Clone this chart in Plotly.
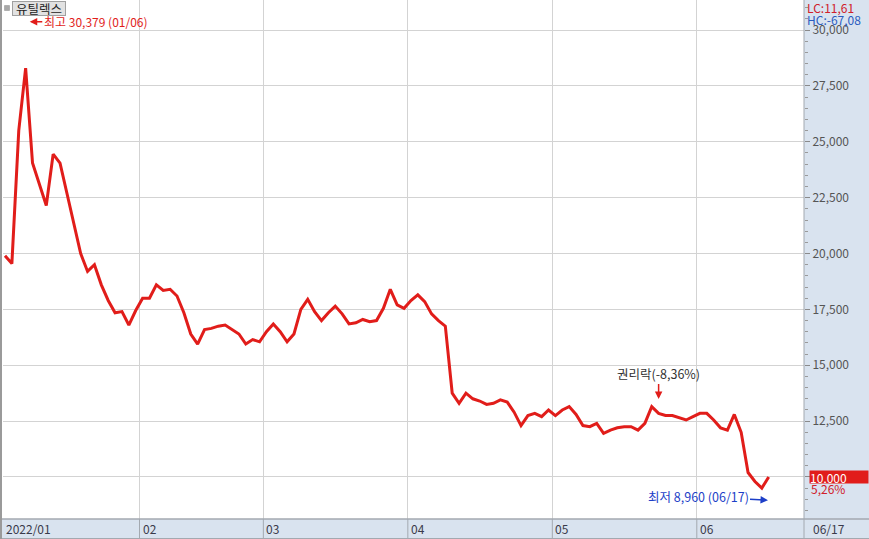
import plotly.graph_objects as go

# ---- data ----
stock_name = "유틸렉스"
months = ["01", "02", "03", "04", "05", "06"]
month_days = {
    "01": [3, 4, 5, 6, 7, 10, 11, 12, 13, 14, 17, 18, 19, 20, 21, 24, 25, 26, 27, 28],
    "02": [3, 4, 7, 8, 9, 10, 11, 14, 15, 16, 17, 18, 21, 22, 23, 24, 25, 28],
    "03": [2, 3, 4, 7, 8, 10, 11, 14, 15, 16, 17, 18, 21, 22, 23, 24, 25, 28, 29, 30, 31],
    "04": [1, 4, 5, 6, 7, 8, 11, 12, 13, 14, 15, 18, 19, 20, 21, 22, 25, 26, 27, 28, 29],
    "05": [2, 3, 4, 6, 9, 10, 11, 12, 13, 16, 17, 18, 19, 20, 23, 24, 25, 26, 27, 30, 31],
    "06": [2, 3, 7, 8, 9, 10, 13, 14, 15, 16, 17],
}
dates = [f"2022/{m}/{d:02d}" for m in months for d in month_days[m]]

close = [
    19900, 19550, 25500, 28300, 24050, 23150, 22150, 24450, 24050, 22700,
    21350, 20000, 19200, 19500, 18600, 17900, 17350, 17400, 16800, 17450,
    18000, 18000, 18600, 18350, 18400, 18100, 17350, 16400, 15950, 16600,
    16650, 16750, 16800, 16600, 16400, 15950, 16150, 16050, 16500, 16850,
    16500, 16050, 16400, 17500, 17950, 17400, 17000, 17350, 17650, 17300,
    16850, 16900, 17050, 16950, 17000, 17550, 18400, 17700, 17550, 17900,
    18150, 17850, 17300, 17000, 16750, 13750, 13300, 13750, 13500, 13400,
    13250, 13300, 13450, 13350, 12900, 12300, 12750, 12850, 12700, 13000,
    12750, 13000, 13150, 12800, 12300, 12250, 12400, 11950, 12100, 12200,
    12250, 12250, 12100, 12400, 13150, 12850, 12750, 12750, 12650, 12550,
    12700, 12850, 12850, 12550, 12200, 12100, 12800, 12000, 10200, 9800,
    9500, 10000,
]
month_labels = ["2022/01", "02", "03", "04", "05", "06"]
y_ticks = [10000, 12500, 15000, 17500, 20000, 22500, 25000, 27500, 30000]

high_value, high_date = 30379, "01/06"
low_value, low_date = 8960, "06/17"
ex_rights_date = "2022/05/24"
ex_rights_text = "권리락(-8,36%)"
lc_text = "LC:11,61"
hc_text = "HC:-67,08"
last_change = "5,26%"

# ---- derived ----
n = len(close)
xs = list(range(n))
month_starts = [dates.index(f"2022/{m}/{month_days[m][0]:02d}") for m in months]
grid_x = [s - 0.45 for s in month_starts]
high_idx = dates.index("2022/" + high_date)
low_idx = dates.index("2022/" + low_date)
ex_idx = dates.index(ex_rights_date)
last_val = close[-1]

FONT = "Noto Sans CJK KR, Noto Sans, sans-serif"
RED = "#e11d1a"
BLUE = "#1d3fc8"
PANEL = "#d9e3ef"
BORDER = "#a3a9b0"

W, H = 869, 539
ML, MR, MT, MB = 3, 65, 0, 20
PW, PH = W - ML - MR, H - MT - MB
X_RANGE = [-0.29, 116.13]

def px(X):
    return (X - ML) / PW

def py(Y):
    return (MT + PH - Y) / PH

fig = go.Figure()
fig.add_trace(go.Scatter(
    x=xs, y=close, mode="lines", text=dates,
    line=dict(color=RED, width=3), hoverinfo="text+y", showlegend=False,
))

shapes = []
# right panel and bottom panel backgrounds
shapes.append(dict(type="rect", xref="paper", yref="paper", x0=1, x1=px(W + 2),
                   y0=0, y1=py(-2), fillcolor=PANEL, line=dict(width=0), layer="below"))
shapes.append(dict(type="rect", xref="paper", yref="paper", x0=px(-2), x1=px(W + 2),
                   y0=py(H + 2), y1=0, fillcolor=PANEL, line=dict(width=0), layer="below"))
# month separators in bottom panel
for gx in grid_x[1:]:
    shapes.append(dict(type="line", xref="x", yref="paper", x0=gx, x1=gx,
                       y0=py(H), y1=0, line=dict(color=BORDER, width=1)))
# borders
shapes.append(dict(type="line", xref="paper", yref="paper", x0=px(0), x1=px(W),
                   y0=0, y1=0, line=dict(color=BORDER, width=1.5)))
shapes.append(dict(type="line", xref="paper", yref="paper", x0=px(0), x1=px(W),
                   y0=py(H - 0.5), y1=py(H - 0.5), line=dict(color=BORDER, width=1)))
shapes.append(dict(type="line", xref="paper", yref="paper", x0=1, x1=1,
                   y0=py(H), y1=py(0), line=dict(color=BORDER, width=1)))
shapes.append(dict(type="line", xref="paper", yref="paper", x0=px(1), x1=px(1),
                   y0=py(H), y1=py(0), line=dict(color="#9a9a9a", width=2)))
# legend square
shapes.append(dict(type="rect", xref="paper", yref="paper", x0=px(4.5), x1=px(9.5),
                   y0=py(10.5), y1=py(5.5), fillcolor="#a8a8a8", line=dict(color="#8c8c8c", width=0.5)))

ann = []
# legend label
ann.append(dict(xref="paper", yref="paper", x=px(12), y=py(8.5), xanchor="left", yanchor="middle",
                text=stock_name, showarrow=False, font=dict(family=FONT, size=12.5, color="#222"),
                bgcolor="#e2e2e2", bordercolor="#a0a0a0", borderwidth=1, borderpad=0,
                width=52, height=13))
# high marker
ann.append(dict(x=high_idx + 0.6, y=high_value, xref="x", yref="y", ax=66, ay=0,
                text=f"최고 {high_value:,} ({high_date})", showarrow=True,
                arrowhead=2, arrowsize=1, arrowwidth=1.5, arrowcolor=RED,
                font=dict(family=FONT, size=12, color=RED)))
# low marker
ann.append(dict(x=low_idx - 0.1, y=low_value, xref="x", yref="y", ax=-70, ay=-4,
                text=f"최저 {low_value:,} ({low_date})", showarrow=True,
                arrowhead=2, arrowsize=1, arrowwidth=1.5, arrowcolor=BLUE,
                font=dict(family=FONT, size=12.5, color=BLUE)))
# ex-rights marker
ann.append(dict(x=ex_idx, y=13490, xref="x", yref="y", ax=0, ay=-26,
                text=ex_rights_text, showarrow=True,
                arrowhead=2, arrowsize=1, arrowwidth=1.5, arrowcolor=RED,
                font=dict(family=FONT, size=12.5, color="#333")))
# month labels (paper positions computed from the x-axis scale)
for gx, lab in zip(grid_x, month_labels):
    xp = max((gx - X_RANGE[0]) / (X_RANGE[1] - X_RANGE[0]), 0)
    ann.append(dict(x=xp, y=py(528.5), xref="paper", yref="paper", xanchor="left", yanchor="middle",
                    xshift=1, text=lab, showarrow=False,
                    font=dict(family=FONT, size=12, color="#3a3a4a")))
ann.append(dict(x=px(811), y=py(528.5), xref="paper", yref="paper", xanchor="left", yanchor="middle",
                text=low_date, showarrow=False, font=dict(family=FONT, size=12, color="#3a3a4a")))
# LC / HC
ann.append(dict(x=px(805), y=py(7), xref="paper", yref="paper", xanchor="left", yanchor="middle",
                text=lc_text, showarrow=False, font=dict(family=FONT, size=12, color="#d0202a")))
ann.append(dict(x=px(805), y=py(19.5), xref="paper", yref="paper", xanchor="left", yanchor="middle",
                text=hc_text, showarrow=False, font=dict(family=FONT, size=12, color="#2a5cc0")))
# current price box
ann.append(dict(x=px(809), y=last_val, xref="paper", yref="y", xanchor="left", yanchor="middle",
                text=f"{last_val:,}", showarrow=False, width=58, height=12, align="left",
                bgcolor=RED, borderpad=0, font=dict(family=FONT, size=12, color="white")))
ann.append(dict(x=px(809), y=last_val, xref="paper", yref="y", xanchor="left", yanchor="middle",
                yshift=-12, text=last_change, showarrow=False,
                font=dict(family=FONT, size=12, color="#d0202a")))

fig.update_layout(
    width=W, height=H,
    margin=dict(l=ML, r=MR, t=MT, b=MB, autoexpand=False),
    paper_bgcolor="white", plot_bgcolor="white",
    shapes=shapes, annotations=ann,
    xaxis=dict(range=X_RANGE, tickvals=grid_x, showticklabels=False,
               showgrid=True, gridcolor="#d3d3d3", gridwidth=1, zeroline=False,
               showline=False, ticks="", automargin=False),
    yaxis=dict(range=[8120, 31347], side="right", tickvals=y_ticks,
               ticktext=[f"{v:,}" for v in y_ticks],
               showgrid=True, gridcolor="#d3d3d3", gridwidth=1, zeroline=False,
               ticks="outside", ticklen=5, tickcolor="#8a8a8a",
               minor=dict(dtick=500, ticks="outside", ticklen=3, tickcolor="#9a9a9a", showgrid=False),
               tickfont=dict(family=FONT, size=12, color="#555"), showline=False,
               automargin=False),
    font=dict(family=FONT),
)

fig.write_html("out.html", config={"displayModeBar": False},
               post_script="document.body.style.margin='0';document.body.style.padding='0';document.body.style.overflow='hidden';")
